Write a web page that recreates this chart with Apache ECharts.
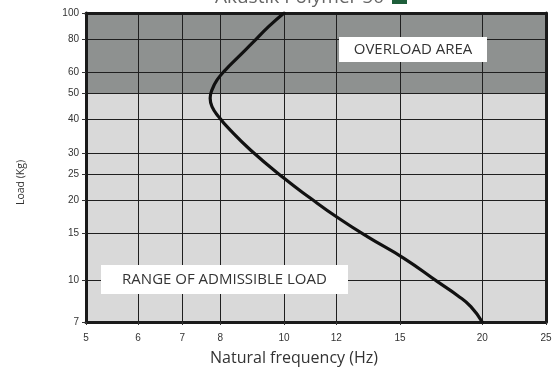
<!DOCTYPE html>
<html>
<head>
<meta charset="utf-8">
<script src="https://cdn.jsdelivr.net/npm/echarts@6/dist/echarts.min.js"></script>
<style>html,body{margin:0;padding:0;background:#fff}#c{width:553px;height:369px}</style>
</head>
<body>
<div id="c"></div>
<script>
// Data
const freqHz = [20, 19.22, 18.34, 17.1, 15.21, 13.38, 12.04, 10.97, 10.0, 8.89, 8.23, 7.95, 7.77, 7.72, 7.77, 7.91, 8.14, 8.53, 8.99, 9.47, 10];
const loadKg = [7, 7.99, 8.8, 9.91, 12.11, 14.59, 17.24, 20.3, 24.11, 30.76, 37.1, 41.0, 44.7, 48.0, 51.6, 56.2, 61.2, 68.7, 78.1, 88.9, 100];
const xTicks = [5, 6, 7, 8, 10, 12, 15, 20, 25];
const yTicks = [7, 10, 15, 20, 25, 30, 40, 50, 60, 80, 100];
const overloadRange = [50, 100];
const titleText = 'Akustik Polymer 50';

const chart = echarts.init(document.getElementById('c'), null, {renderer: 'canvas'});
const lblFont = {fontFamily: 'Liberation Sans, Arial, sans-serif', fontSize: 10, color: '#333'};
const gridLine = {show: true, lineStyle: {color: '#1f1f1f', width: 1}};
const border = {show: true, onZero: false, lineStyle: {color: '#1a1a1a', width: 3}};
const boxFont = {fontFamily: 'Open Sans, sans-serif', fontSize: 15, fill: '#333', align: 'center', verticalAlign: 'middle'};

chart.setOption({
  animation: false,
  grid: {left: 86, right: 7, top: 13, bottom: 47, show: true, backgroundColor: '#d9d9d9', borderWidth: 0,
         containLabel: false, outerBoundsMode: 'none'},
  xAxis: [{
    type: 'log', logBase: 10, min: 5, max: 25, z: 2,
    name: 'Natural frequency (Hz)', nameLocation: 'middle', nameGap: 28,
    nameTextStyle: {fontFamily: 'Open Sans, sans-serif', fontSize: 16, color: '#333', padding: [0, 44, 0, 0]},
    axisLine: border,
    axisTick: {show: true, length: 3, inside: false, customValues: xTicks, lineStyle: {color: '#333'}},
    axisLabel: Object.assign({customValues: xTicks, margin: 11}, lblFont),
    splitLine: gridLine
  }, {
    type: 'log', logBase: 10, min: 5, max: 25, position: 'top', z: 2,
    axisLine: border, axisTick: {show: false}, axisLabel: {show: false}, splitLine: {show: false}
  }],
  yAxis: [{
    type: 'log', logBase: 10, min: 7, max: 100, z: 2,
    name: 'Load (Kg)', nameLocation: 'middle', nameGap: 59, nameRotate: 90,
    nameTextStyle: {fontFamily: 'Open Sans, sans-serif', fontSize: 10.5, color: '#333', padding: [0, 30, 0, 0]},
    axisLine: border,
    axisTick: {show: true, length: 4, inside: false, customValues: yTicks, lineStyle: {color: '#333'}},
    axisLabel: Object.assign({customValues: yTicks, margin: 7}, lblFont),
    splitLine: gridLine
  }, {
    type: 'log', logBase: 10, min: 7, max: 100, position: 'right', z: 2,
    axisLine: border, axisTick: {show: false}, axisLabel: {show: false}, splitLine: {show: false}
  }],
  series: [{
    type: 'line', z: 3,
    data: freqHz.map((f, i) => [f, loadKg[i]]),
    smooth: 0.5, showSymbol: false,
    lineStyle: {color: '#111', width: 3.2, cap: 'round', join: 'round'},
    markArea: {
      silent: true, z: 1,
      itemStyle: {color: '#8e9190'},
      data: [[{yAxis: overloadRange[0]}, {yAxis: overloadRange[1]}]]
    }
  }],
  graphic: [
    {type: 'text', right: 553 - 384, top: -12, z: 100,
     style: {text: titleText, fontFamily: 'Open Sans, sans-serif', fontSize: 19, fill: '#666'}},
    {type: 'rect', left: 392, top: -8, z: 100, shape: {width: 15, height: 12}, style: {fill: '#1e5e3a'}},
    {type: 'rect', x: 339, y: 37, z: 100, shape: {width: 148, height: 25}, style: {fill: '#fff'}},
    {type: 'text', x: 413, y: 50, z: 101, style: Object.assign({text: 'OVERLOAD AREA'}, boxFont)},
    {type: 'rect', x: 101, y: 265, z: 100, shape: {width: 247, height: 29}, style: {fill: '#fff'}},
    {type: 'text', x: 224.5, y: 280, z: 101, style: Object.assign({text: 'RANGE OF ADMISSIBLE LOAD'}, boxFont)}
  ]
});
</script>
</body>
</html>
